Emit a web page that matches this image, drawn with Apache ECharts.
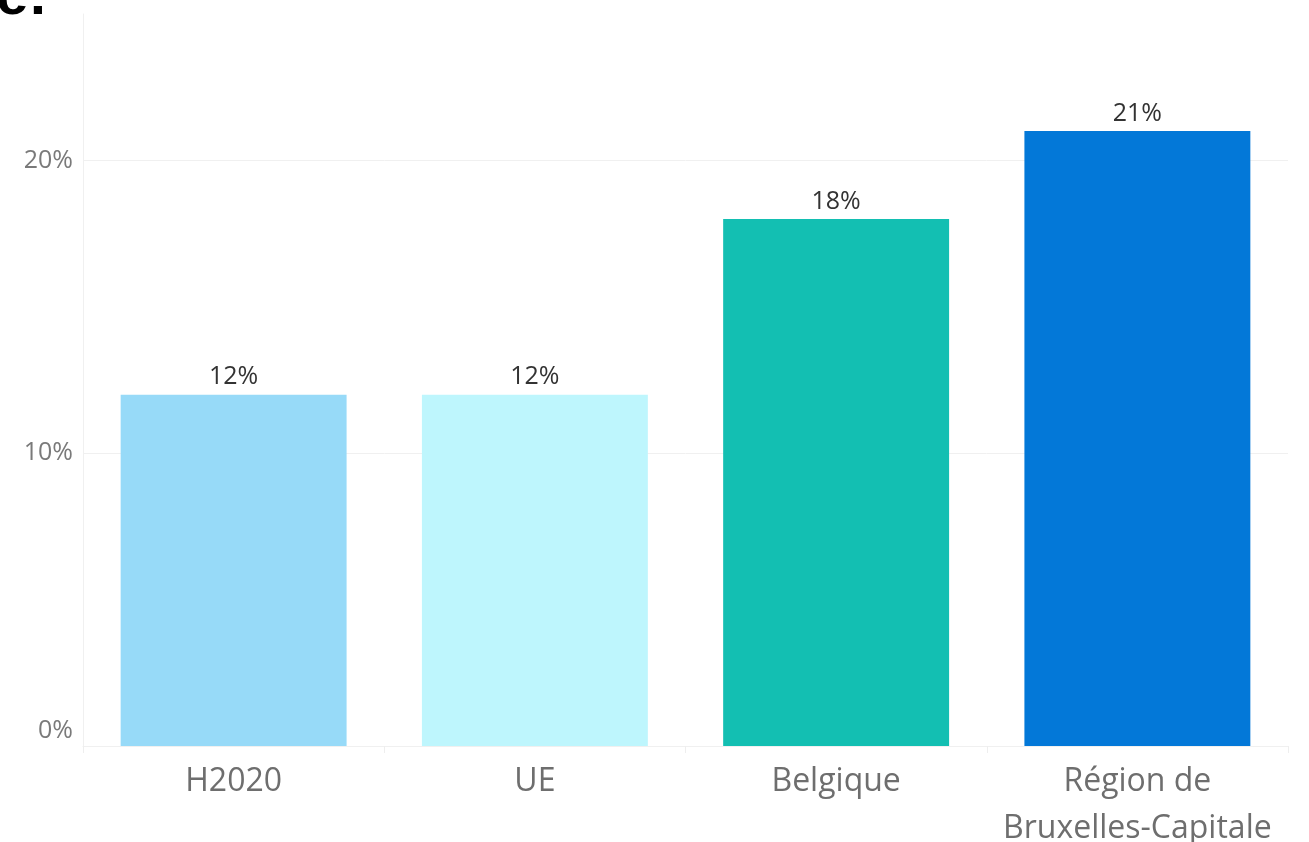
<!DOCTYPE html>
<html>
<head>
<meta charset="utf-8">
<script src="https://cdn.jsdelivr.net/npm/echarts@6/dist/echarts.min.js"></script>
<style>
  html, body { margin: 0; padding: 0; background: #fff; }
  #chart { width: 1309px; height: 842px; }
</style>
</head>
<body>
<div id="chart"></div>
<script>
const categories = ['H2020', 'UE', 'Belgique', 'Région de\nBruxelles-Capitale'];
const values = [12, 12, 18, 21];
const yTicks = [0, 10, 20];

const barColors = ['#97daf8', '#bef6fd', '#13bfb2', '#0378d8'];

var myChart = echarts.init(document.getElementById('chart'));

const option = {
  animation: false,
  textStyle: { fontFamily: 'Open Sans' },
  graphic: [
    {
      type: 'text',
      left: -4,
      top: -31,
      style: {
        text: 'e:',
        font: 'bold 58px Liberation Sans',
        fill: '#000'
      }
    }
  ],
  grid: { left: 83, right: 21, top: 14, bottom: 96, outerBoundsMode: 'none', containLabel: false },
  xAxis: {
    type: 'category',
    data: categories,
    axisLine: { lineStyle: { color: '#f0f0f0', width: 1 } },
    axisTick: { show: true, interval: 0, length: 7, lineStyle: { color: '#eeeeee' } },
    axisLabel: {
      interval: 0,
      color: '#6e6e6e',
      fontSize: 32,
      lineHeight: 47,
      margin: 12,
      fontFamily: 'Open Sans'
    }
  },
  yAxis: {
    type: 'value',
    min: 0,
    max: 25,
    interval: 10,
    axisLine: { show: true, lineStyle: { color: '#f0f0f0' } },
    axisTick: { show: false },
    splitLine: { show: true, showMaxLine: false, lineStyle: { color: '#f0f0f0' } },
    axisLabel: {
      showMaxLabel: false,
      color: '#7a7a7a',
      fontSize: 25,
      margin: 10,
      fontFamily: 'Open Sans',
      formatter: function (v) {
        if (yTicks.indexOf(v) < 0) return '';
        if (v === 0) return '{z|0%}';
        return v + '%';
      },
      rich: {
        z: { fontSize: 25, color: '#7a7a7a', padding: [0, 0, 30, 0], fontFamily: 'Open Sans' }
      }
    }
  },
  series: [
    {
      type: 'bar',
      barWidth: '75%',
      data: values.map(function (v, i) {
        return { value: v, itemStyle: { color: barColors[i] } };
      }),
      label: {
        show: true,
        position: 'top',
        distance: 5,
        formatter: '{c}%',
        color: '#333',
        fontSize: 25,
        fontFamily: 'Open Sans'
      }
    }
  ]
};

myChart.setOption(option);
</script>
</body>
</html>
